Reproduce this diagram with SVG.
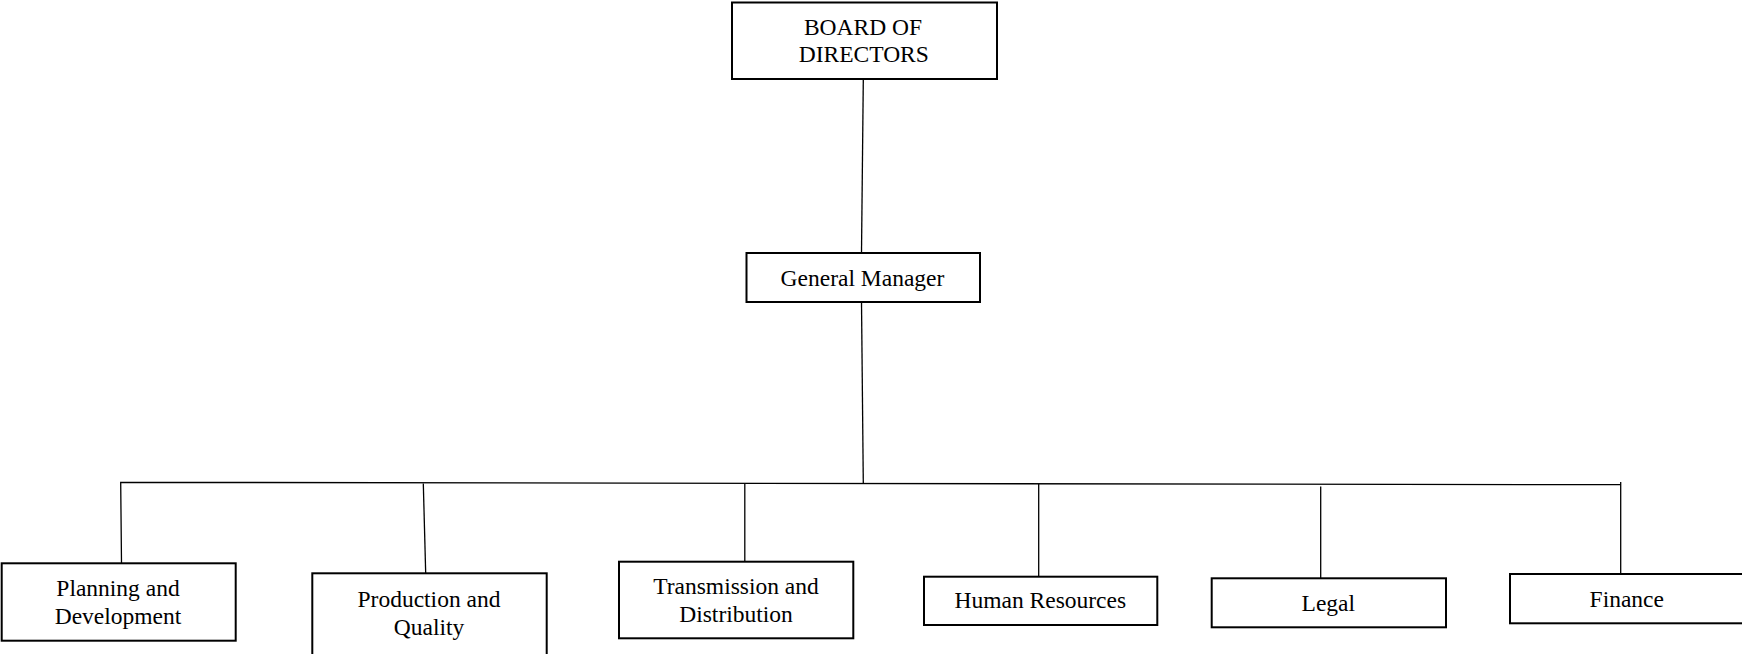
<svg xmlns="http://www.w3.org/2000/svg" width="1742" height="654" viewBox="0 0 1742 654">
<style>
.box{fill:#fff;stroke:#000;stroke-width:2}
.ln{fill:none;stroke:#000;stroke-width:1.3}
text{font-family:"Liberation Serif","Times New Roman",serif;font-size:23.5px;fill:#000;text-anchor:middle}
</style>
<rect width="1742" height="654" fill="#fff"/>
<g id="connectors">
<line class="ln" x1="863.3" y1="79" x2="861.5" y2="253"/>
<line class="ln" x1="861.5" y1="302" x2="863.3" y2="484"/>
<polyline class="ln" points="121.5,563.3 120.7,482.3 1620.7,484.7"/>
<line class="ln" x1="1620.7" y1="482" x2="1620.7" y2="574"/>
<line class="ln" x1="423.3" y1="483.5" x2="425.7" y2="573.3"/>
<line class="ln" x1="744.8" y1="483.8" x2="744.8" y2="561.7"/>
<line class="ln" x1="1038.7" y1="484" x2="1038.7" y2="576.7"/>
<line class="ln" x1="1320.7" y1="486.5" x2="1320.7" y2="578.3"/>
</g>
<g id="board">
<rect class="box" x="732" y="2.5" width="265" height="76.5"/>
<text x="863" y="35">BOARD OF</text>
<text x="863.8" y="62">DIRECTORS</text>
</g>
<g id="gm">
<rect class="box" x="746.5" y="253" width="233.5" height="49"/>
<text x="862.5" y="285.7">General Manager</text>
</g>
<g id="planning">
<rect class="box" x="1.7" y="563.3" width="234" height="77.4"/>
<text x="118" y="596">Planning and</text>
<text x="118" y="624">Development</text>
</g>
<g id="production">
<rect class="box" x="312.3" y="573.3" width="234.4" height="100"/>
<text x="429" y="606.7">Production and</text>
<text x="429" y="635">Quality</text>
</g>
<g id="transmission">
<rect class="box" x="619" y="561.7" width="234.3" height="76.6"/>
<text x="736" y="594">Transmission and</text>
<text x="736" y="621.7">Distribution</text>
</g>
<g id="hr">
<rect class="box" x="924" y="576.7" width="233.3" height="48.3"/>
<text x="1040.3" y="608.3">Human Resources</text>
</g>
<g id="legal">
<rect class="box" x="1211.7" y="578.3" width="234.3" height="49"/>
<text x="1328.3" y="610.7">Legal</text>
</g>
<g id="finance">
<rect class="box" x="1510" y="574" width="260" height="49.3"/>
<text x="1626.8" y="606.7">Finance</text>
</g>
</svg>
